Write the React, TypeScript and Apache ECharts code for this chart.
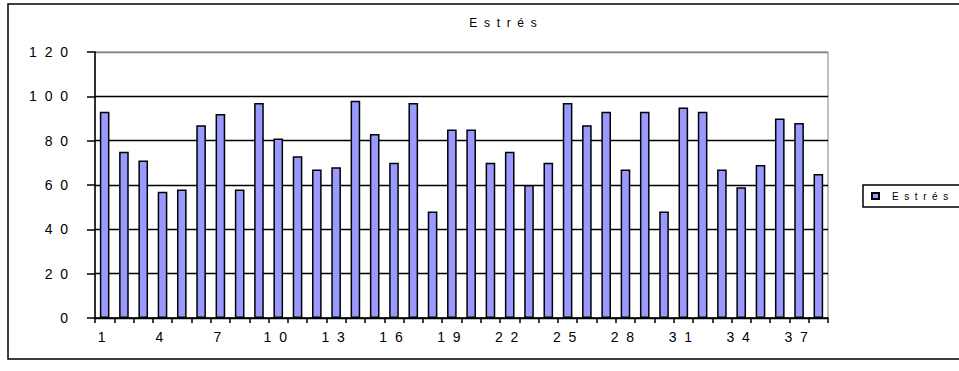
import React, { useEffect, useRef } from "react";
import * as echarts from "echarts";

const categories = [
  "1", "2", "3", "4", "5", "6", "7", "8", "9", "10",
  "11", "12", "13", "14", "15", "16", "17", "18", "19", "20",
  "21", "22", "23", "24", "25", "26", "27", "28", "29", "30",
  "31", "32", "33", "34", "35", "36", "37", "38",
];

const estresValues = [
  93, 75, 71, 57, 58, 87, 92, 58, 97, 81,
  73, 67, 68, 98, 83, 70, 97, 48, 85, 85,
  70, 75, 60, 70, 97, 87, 93, 67, 93, 48,
  95, 93, 67, 59, 69, 90, 88, 65,
];

const seriesName = "Estrés";
const chartTitle = "Estrés";

const GAP = "\u2007";
const spaced = (s: string | number) => String(s).split("").join(GAP);

const FONT = "'Liberation Sans', Arial, sans-serif";

export default function App() {
  const ref = useRef<HTMLDivElement>(null);

  useEffect(() => {
    if (!ref.current) return;
    const chart = echarts.init(ref.current, undefined, { renderer: "svg" });
    chart.setOption({
      animation: false,
      backgroundColor: "#ffffff",
      textStyle: { fontFamily: FONT, color: "#000" },
      graphic: [
        {
          type: "rect",
          silent: true,
          z: -1,
          shape: { x: 8, y: 4, width: 1000, height: 355 },
          style: { fill: "transparent", stroke: "#000", lineWidth: 1.5 },
        },
        {
          type: "text",
          x: 503,
          y: 22.5,
          style: {
            text: spaced(chartTitle),
            fontFamily: FONT,
            fontSize: 12,
            fill: "#000",
            textAlign: "center",
            textVerticalAlign: "middle",
          },
        },
      ],
      legend: {
        data: [seriesName],
        left: 863,
        top: 185,
        orient: "vertical",
        padding: [6, 30, 6, 8],
        borderColor: "#000",
        borderWidth: 1.5,
        backgroundColor: "#fff",
        itemWidth: 7,
        itemHeight: 6,
        icon: "rect",
        formatter: (n: string) => spaced(n),
        textStyle: { fontSize: 10, color: "#000", fontFamily: FONT, padding: [0, 0, 0, 8] },
      },
      grid: {
        left: 95,
        top: 52,
        right: 131,
        bottom: 53,
        show: true,
        borderColor: "#808080",
        borderWidth: 1,
        backgroundColor: "transparent",
      },
      xAxis: {
        type: "category",
        data: categories,
        boundaryGap: true,
        axisLine: { show: true, lineStyle: { color: "#000", width: 1.5 } },
        axisTick: { show: true, interval: 0, length: 5, lineStyle: { color: "#000", width: 1.5 } },
        axisLabel: {
          interval: 2,
          formatter: (v: string) => spaced(v),
          fontSize: 14,
          color: "#000",
          margin: 12,
          padding: [0, 6, 0, 0],
          fontFamily: FONT,
        },
        splitLine: { show: false },
      },
      yAxis: {
        type: "value",
        min: 0,
        max: 120,
        interval: 20,
        axisLine: { show: true, lineStyle: { color: "#000", width: 1.5 } },
        axisTick: { show: true, length: 8, lineStyle: { color: "#000", width: 1.5 } },
        axisLabel: {
          formatter: (v: number) => spaced(v),
          fontSize: 14,
          color: "#000",
          margin: 27,
          fontFamily: FONT,
        },
        splitLine: {
          show: true,
          lineStyle: {
            color: ["#000", "#000", "#000", "#000", "#000", "#000", "#808080"],
            width: 1.3,
          },
        },
      },
      series: [
        {
          name: seriesName,
          type: "bar",
          data: estresValues,
          barWidth: "50%",
          itemStyle: { color: "#9999FF", borderColor: "#000", borderWidth: 1.5 },
        },
      ],
    });
    return () => chart.dispose();
  }, []);

  return (
    <div
      ref={ref}
      style={{ position: "fixed", left: 0, top: 0, width: 959, height: 371 }}
    />
  );
}
